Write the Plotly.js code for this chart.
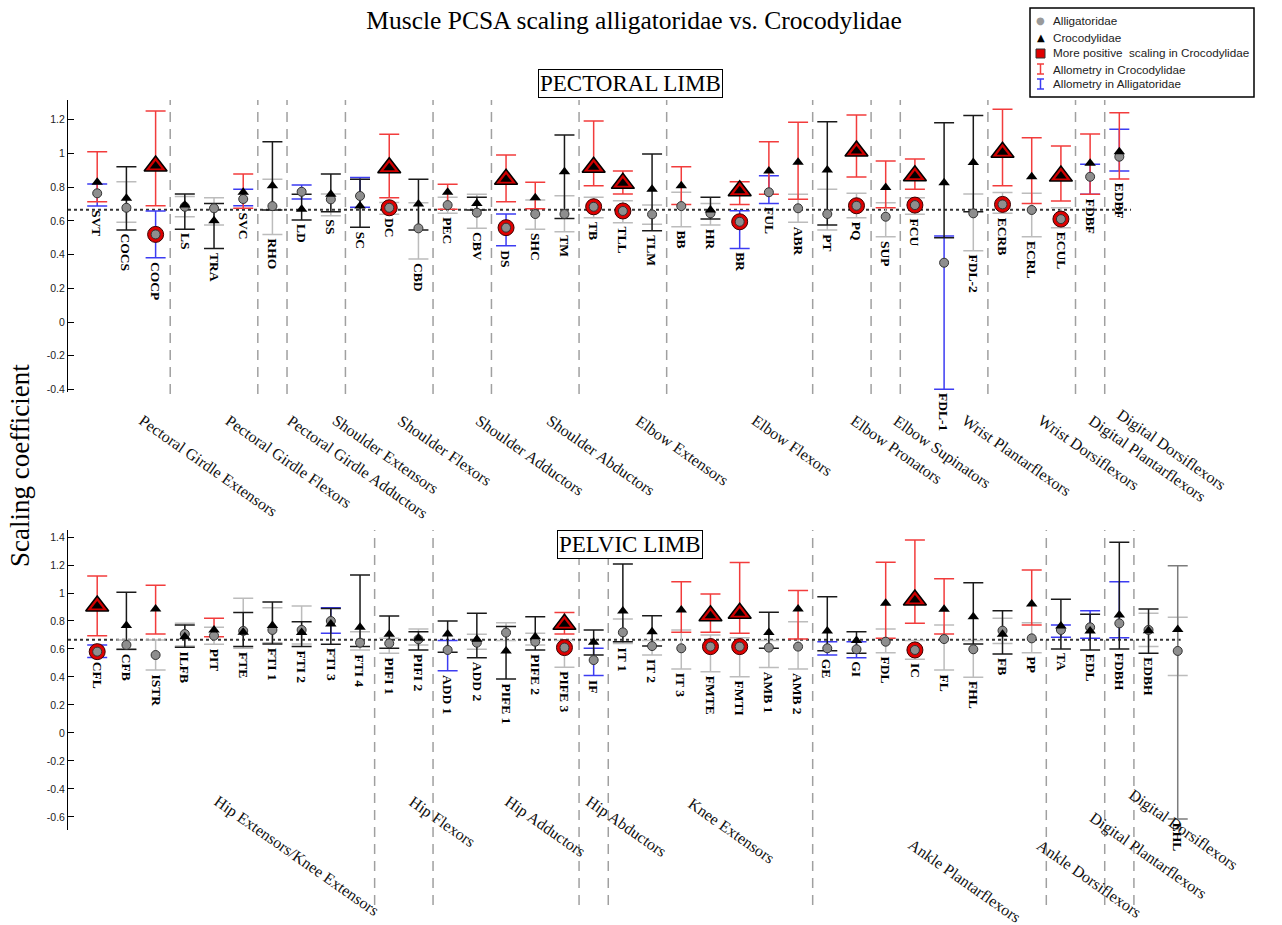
<!DOCTYPE html>
<html><head><meta charset="utf-8">
<script src="https://cdn.plot.ly/plotly-3.0.1.min.js"></script>
<style>body{margin:0;background:#fff}#chart{width:1282px;height:925px}</style>
</head><body><div id="chart"></div>
<script>
// ---------------- DATA: pectoral limb ----------------
const topMuscles = ['SVT','COCS','COCP','LS','TRA','SVC','RHO','LD','SS','SC','DC','CBD','PEC','CBV','DS','SHC','TM','TB','TLL','TLM','BB','HR','BR','FUL','ABR','PT','PQ','SUP','FCU','FDL-1','FDL-2','ECRB','ECRL','ECUL','FDBF','EDBF'];
const topCroc   = [0.829,0.734,0.926,0.694,0.601,0.770,0.809,0.669,0.758,0.688,0.916,0.700,0.770,0.704,0.847,0.738,0.892,0.918,0.823,0.788,0.809,0.665,0.779,0.896,0.948,0.902,1.015,0.799,0.868,0.827,0.946,1.007,0.862,0.866,0.942,1.011];
const topCrocLo = [0.714,0.546,0.690,0.550,0.437,0.675,0.665,0.605,0.655,0.562,0.738,0.546,0.669,0.665,0.714,0.672,0.615,0.809,0.760,0.542,0.698,0.611,0.698,0.758,0.728,0.576,0.861,0.678,0.788,0.500,0.655,0.809,0.704,0.718,0.758,0.849];
const topCrocHi = [1.011,0.922,1.252,0.760,0.704,0.878,1.070,0.758,0.878,0.847,1.114,0.847,0.817,0.740,0.991,0.829,1.110,1.193,0.896,0.997,0.922,0.740,0.833,1.070,1.185,1.189,1.228,0.955,0.967,1.183,1.225,1.262,1.094,1.044,1.116,1.242];
const topAlli   = [0.764,0.678,0.520,0.684,0.675,0.730,0.688,0.773,0.728,0.748,0.678,0.556,0.694,0.649,0.560,0.641,0.641,0.684,0.659,0.639,0.688,0.645,0.595,0.770,0.675,0.641,0.690,0.625,0.694,0.352,0.645,0.698,0.665,0.611,0.862,0.981];
const topAlliLo = [0.688,0.592,0.382,0.625,0.576,0.690,0.520,0.730,0.631,0.681,0.639,0.374,0.645,0.556,0.453,0.550,0.536,0.619,0.589,0.580,0.566,0.576,0.437,0.704,0.592,0.546,0.619,0.506,0.639,-0.398,0.423,0.645,0.506,0.560,0.758,0.896];
const topAlliHi = [0.819,0.833,0.659,0.745,0.738,0.788,0.847,0.813,0.760,0.857,0.710,0.708,0.740,0.758,0.641,0.724,0.750,0.740,0.720,0.694,0.770,0.704,0.661,0.868,0.758,0.788,0.764,0.708,0.738,0.510,0.760,0.768,0.764,0.678,0.936,1.144];
// r = allometry in Crocodylidae, k = none
const topCrocBar = ['r','k','r','k','k','r','k','k','k','k','r','k','r','k','r','r','k','r','r','k','r','k','r','r','r','k','r','r','r','k','k','r','r','r','r','r'];
// b = allometry in Alligatoridae, g = none
const topAlliBar = ['b','g','b','g','g','b','g','b','g','b','g','g','g','g','b','g','g','g','g','g','g','g','b','b','g','g','g','g','g','b','g','g','g','g','b','b'];
// 1 = more positive scaling in Crocodylidae
const topSig = [0,0,1,0,0,0,0,0,0,0,1,0,0,0,1,0,0,1,1,0,0,0,1,0,0,0,1,0,1,0,0,1,0,1,0,0];
const topGroups = ['Pectoral Girdle Extensors','Pectoral Girdle Flexors','Pectoral Girdle Adductors','Shoulder Extensors','Shoulder Flexors','Shoulder Adductors','Shoulder Abductors','Elbow Extensors','Elbow Flexors','Elbow Pronators','Elbow Supinators','Wrist Plantarflexors','Wrist Dorsiflexors','Digital Plantarflexors','Digital Dorsiflexors'];
const topGroupSizes = [3,3,1,2,3,2,3,3,5,2,1,3,3,1,1];
const topTicks = [-0.4,-0.2,0,0.2,0.4,0.6,0.8,1,1.2];

// ---------------- DATA: pelvic limb ----------------
const botMuscles = ['CFL','CFB','ISTR','ILFB','PIT','FTE','FTI 1','FTI 2','FTI 3','FTI 4','PIFI 1','PIFI 2','ADD 1','ADD 2','PIFE 1','PIFE 2','PIFE 3','IF','IT 1','IT 2','IT 3','FMTE','FMTI','AMB 1','AMB 2','GE','GI','FDL','IC','FL','FHL','FB','PP','TA','EDL','FDBH','EDBH','EHL'];
const botCroc   = [0.907,0.767,0.886,0.688,0.736,0.719,0.767,0.717,0.779,0.755,0.705,0.676,0.707,0.669,0.586,0.688,0.776,0.648,0.871,0.724,0.879,0.838,0.855,0.717,0.886,0.729,0.660,0.926,0.950,0.883,0.831,0.705,0.921,0.764,0.729,0.843,0.731,0.740];
const botCrocLo = [0.695,0.598,0.707,0.612,0.688,0.617,0.636,0.617,0.633,0.617,0.605,0.593,0.576,0.538,0.386,0.593,0.707,0.557,0.652,0.621,0.719,0.719,0.712,0.605,0.671,0.588,0.569,0.676,0.783,0.707,0.636,0.564,0.771,0.600,0.593,0.600,0.569,-0.614];
const botCrocHi = [1.121,1.005,1.055,0.771,0.819,0.860,0.936,0.795,0.890,1.129,0.836,0.724,0.800,0.855,0.760,0.831,0.860,0.736,1.207,0.838,1.081,0.993,1.217,0.862,1.017,0.974,0.724,1.219,1.379,1.102,1.074,0.874,1.164,0.955,0.848,1.362,0.886,1.195];
const botAlli   = [0.581,0.629,0.557,0.707,0.695,0.729,0.736,0.736,0.800,0.645,0.640,0.669,0.593,0.645,0.717,0.652,0.610,0.521,0.719,0.621,0.605,0.617,0.617,0.610,0.617,0.605,0.598,0.652,0.593,0.671,0.598,0.731,0.676,0.736,0.755,0.783,0.736,0.586];
const botAlliLo = [0.540,0.595,0.450,0.621,0.633,0.605,0.645,0.636,0.712,0.593,0.569,0.629,0.445,0.598,0.660,0.629,0.469,0.410,0.640,0.557,0.457,0.438,0.402,0.467,0.457,0.557,0.538,0.574,0.526,0.450,0.398,0.640,0.574,0.683,0.676,0.681,0.617,0.410];
const botAlliHi = [0.629,0.665,0.665,0.783,0.755,0.962,0.895,0.907,0.895,0.724,0.676,0.743,0.660,0.705,0.788,0.712,0.660,0.605,0.814,0.660,0.736,0.700,0.680,0.660,0.795,0.652,0.652,0.743,0.660,0.771,0.660,0.819,0.788,0.771,0.874,1.081,0.855,0.826];
const botCrocBar = ['r','k','r','k','r','k','k','k','k','k','k','k','k','k','k','k','r','k','k','k','r','r','r','k','r','k','k','r','r','r','k','k','r','k','k','k','k','m'];
const botAlliBar = ['b','g','g','g','g','g','g','g','b','g','g','g','b','g','g','g','g','b','g','g','g','g','g','g','g','b','b','g','g','g','g','g','g','b','b','b','g','g'];
const botSig = [1,0,0,0,0,0,0,0,0,0,0,0,0,0,0,0,1,0,0,0,0,1,1,0,0,0,0,0,1,0,0,0,0,0,0,0,0,0];
const botGroups = ['Hip Extensors/Knee Extensors','Hip Flexors','Hip Adductors','Hip Abductors','Knee Extensors','Ankle Plantarflexors','Ankle Dorsiflexors','Digital Plantarflexors','Digital Dorsiflexors'];
const botGroupSizes = [10,2,5,1,7,8,2,1,2];
const botTicks = [-0.6,-0.4,-0.2,0,0.2,0.4,0.6,0.8,1,1.2,1.4];
const isometry = 2/3;

// ---------------- LAYOUT CONSTANTS ----------------
const W = 1282, H = 925;
const px = v => v / W, py = v => 1 - v / H;
const topLabelPos = [[133,409],[220,409],[281,409],[327,409],[392,409],[470,409],[541,409],[630,409],[746,409],[845,409],[887,409],[956,409],[1032,409],[1083,409],[1111,403]];
const botLabelPos = [[208,790],[403,790],[499,790],[580,790],[682,792],[902,833],[1031,833],[1084,806],[1123,783]];
const crocColors = {k:'#1a1a1a', r:'#f23c3c', m:'#7c7c7c'};
const alliColors = {g:'#bcbcbc', b:'#3c3cf2'};
const SERIF = 'Liberation Serif, Times New Roman, serif';
const SANS = 'Liberation Sans, Arial, sans-serif';

function barTrace(names, val, lo, hi, flags, flag, color, xa, ya) {
  const idx = names.map((_, i) => i).filter(i => flags[i] === flag);
  return {type:'scatter', mode:'markers', x: idx.map(i => names[i]), y: idx.map(i => val[i]),
    error_y:{type:'data', symmetric:false, array: idx.map(i => hi[i] - val[i]), arrayminus: idx.map(i => val[i] - lo[i]),
      color: color, thickness: 1.5, width: 10},
    marker:{size:1, color:'rgba(0,0,0,0)'}, xaxis:xa, yaxis:ya, hoverinfo:'skip', showlegend:false};
}
function markerTrace(names, val, mask, marker, xa, ya) {
  const idx = names.map((_, i) => i).filter(i => mask(i));
  return {type:'scatter', mode:'markers', x: idx.map(i => names[i]), y: idx.map(i => val[i]),
    marker: marker, xaxis:xa, yaxis:ya, hoverinfo:'x+y', showlegend:false, cliponaxis:false};
}
function panelTraces(names, croc, cLo, cHi, alli, aLo, aHi, cBar, aBar, sig, xa, ya) {
  const t = [];
  t.push(barTrace(names, alli, aLo, aHi, aBar, 'g', alliColors.g, xa, ya));
  t.push(barTrace(names, alli, aLo, aHi, aBar, 'b', alliColors.b, xa, ya));
  t.push(barTrace(names, croc, cLo, cHi, cBar, 'm', crocColors.m, xa, ya));
  t.push(barTrace(names, croc, cLo, cHi, cBar, 'k', crocColors.k, xa, ya));
  t.push(barTrace(names, croc, cLo, cHi, cBar, 'r', crocColors.r, xa, ya));
  t.push(markerTrace(names, alli, i => sig[i], {symbol:'circle', size:16, color:'#e00000', line:{color:'#3a0000', width:1}}, xa, ya));
  t.push(markerTrace(names, alli, i => true, {symbol:'circle', size:9, color:'#8e8e8e', line:{color:'#333', width:1}}, xa, ya));
  t.push(markerTrace(names, croc, i => sig[i], {symbol:'triangle-up', size:20, color:'#d00000', line:{color:'#000', width:1.5}}, xa, ya));
  t.push(markerTrace(names, croc, i => true, {symbol:'triangle-up', size:10, color:'#000', line:{color:'#000', width:0}}, xa, ya));
  return t;
}
function separators(sizes, xref, y0, y1) {
  const s = []; let cum = 0;
  sizes.slice(0, -1).forEach(n => {
    cum += n;
    s.push({type:'line', xref:xref, yref:'paper', x0:cum - 0.5, x1:cum - 0.5, y0:py(y0), y1:py(y1),
      line:{color:'#a0a0a0', width:1.5, dash:'10px,7px'}, layer:'below'});
  });
  return s;
}
function muscleLabels(names, cLo, aLo, xref, yref) {
  return names.map((n, i) => ({x:n, y:Math.min(cLo[i], aLo[i]), xref:xref, yref:yref, text:'<b>' + n + '</b>',
    showarrow:false, textangle:90, xanchor:'center', yanchor:'top', yshift:-2,
    font:{family:SERIF, size:13.5, color:'#000'}}));
}
function groupLabels(groups, pos) {
  return groups.map((g, i) => ({x:px(pos[i][0]), y:py(pos[i][1]), xref:'paper', yref:'paper', text:g,
    showarrow:false, textangle:35, xanchor:'left', yanchor:'top', font:{family:SERIF, size:16, color:'#111'}}));
}

const data = [].concat(
  panelTraces(topMuscles, topCroc, topCrocLo, topCrocHi, topAlli, topAlliLo, topAlliHi, topCrocBar, topAlliBar, topSig, 'x', 'y'),
  panelTraces(botMuscles, botCroc, botCrocLo, botCrocHi, botAlli, botAlliLo, botAlliHi, botCrocBar, botAlliBar, botSig, 'x2', 'y2')
);

const xRange = [-1, 38.79];
function xAxis(names, anchor) {
  return {domain:[px(68), px(1230)], range:xRange, type:'category', categoryorder:'array', categoryarray:names,
    showline:false, showticklabels:false, ticks:'', zeroline:false, showgrid:false, anchor:anchor, fixedrange:true};
}
function yAxis(ticks, domain, range, anchor) {
  return {domain:domain, range:range, tickvals:ticks, ticktext:ticks.map(String), ticks:'inside', ticklen:6,
    tickcolor:'#000', showline:true, linecolor:'#000', linewidth:1, zeroline:false, showgrid:false,
    tickfont:{family:SANS, size:10.5, color:'#222'}, anchor:anchor, fixedrange:true, automargin:false};
}

const shapes = [].concat(
  separators(topGroupSizes, 'x', 394, 100),
  separators(botGroupSizes, 'x2', 905, 530),
  [
    {type:'line', xref:'x', yref:'y', x0:-1, x1:topMuscles.length - 0.6, y0:isometry, y1:isometry, line:{color:'#333', width:2, dash:'3px,3px'}, layer:'below'},
    {type:'line', xref:'x2', yref:'y2', x0:-1, x1:botMuscles.length - 0.9, y0:isometry, y1:isometry, line:{color:'#333', width:2, dash:'3px,3px'}, layer:'below'},
    // legend box
    {type:'rect', xref:'paper', yref:'paper', x0:px(1030), x1:px(1254), y0:py(97), y1:py(8), line:{color:'#000', width:1.5}, fillcolor:'#fff'},
    {type:'rect', xref:'paper', yref:'paper', x0:px(1036), x1:px(1045), y0:py(58), y1:py(49), line:{color:'#333', width:1}, fillcolor:'#e00000'},
    {type:'line', xref:'paper', yref:'paper', x0:px(1040.5), x1:px(1040.5), y0:py(74), y1:py(64), line:{color:'#f23c3c', width:1.5}},
    {type:'line', xref:'paper', yref:'paper', x0:px(1037), x1:px(1044), y0:py(64), y1:py(64), line:{color:'#f23c3c', width:1.5}},
    {type:'line', xref:'paper', yref:'paper', x0:px(1037), x1:px(1044), y0:py(74), y1:py(74), line:{color:'#f23c3c', width:1.5}},
    {type:'line', xref:'paper', yref:'paper', x0:px(1040.5), x1:px(1040.5), y0:py(89), y1:py(79), line:{color:'#3c3cf2', width:1.5}},
    {type:'line', xref:'paper', yref:'paper', x0:px(1037), x1:px(1044), y0:py(79), y1:py(79), line:{color:'#3c3cf2', width:1.5}},
    {type:'line', xref:'paper', yref:'paper', x0:px(1037), x1:px(1044), y0:py(89), y1:py(89), line:{color:'#3c3cf2', width:1.5}}
  ]
);

const legendItems = [['Alligatoridae',21],['Crocodylidae',37],['More positive  scaling in Crocodylidae',53],['Allometry in Crocodylidae',69],['Allometry in Alligatoridae',84]];
const annotations = [].concat(
  muscleLabels(topMuscles, topCrocLo, topAlliLo, 'x', 'y'),
  muscleLabels(botMuscles, botCrocLo, botAlliLo, 'x2', 'y2'),
  groupLabels(topGroups, topLabelPos),
  groupLabels(botGroups, botLabelPos),
  [
    {x:px(630), y:py(84), xref:'paper', yref:'paper', text:'PECTORAL LIMB', showarrow:false, xanchor:'center', yanchor:'middle',
      bordercolor:'#000', borderwidth:1, borderpad:1, bgcolor:'#fff', font:{family:SERIF, size:23, color:'#000'}},
    {x:px(630), y:py(544), xref:'paper', yref:'paper', text:'PELVIC LIMB', showarrow:false, xanchor:'center', yanchor:'middle',
      bordercolor:'#000', borderwidth:1, borderpad:1, bgcolor:'#fff', font:{family:SERIF, size:23, color:'#000'}},
    {x:px(20), y:py(466), xref:'paper', yref:'paper', text:'Scaling coefficient', showarrow:false, textangle:-90,
      xanchor:'center', yanchor:'middle', font:{family:SERIF, size:27, color:'#000'}},
    {x:px(1040.5), y:py(21), xref:'paper', yref:'paper', text:'●', showarrow:false, xanchor:'center', yanchor:'middle', font:{family:'DejaVu Sans', size:10, color:'#9a9a9a'}},
    {x:px(1040.5), y:py(37), xref:'paper', yref:'paper', text:'▲', showarrow:false, xanchor:'center', yanchor:'middle', font:{family:'DejaVu Sans', size:10, color:'#000'}}
  ],
  legendItems.map(it => ({x:px(1051), y:py(it[1]), xref:'paper', yref:'paper', text:it[0], showarrow:false,
    xanchor:'left', yanchor:'middle', font:{family:SANS, size:11.7, color:'#222'}}))
);

const layout = {
  width:W, height:H, autosize:false, margin:{l:0, r:0, t:0, b:0, pad:0},
  paper_bgcolor:'#fff', plot_bgcolor:'rgba(0,0,0,0)', showlegend:false,
  font:{family:SERIF, color:'#000'},
  title:{text:'Muscle PCSA scaling alligatoridae vs. Crocodylidae', x:px(634), y:py(20), xanchor:'center', yanchor:'middle',
    font:{family:SERIF, size:25.5, color:'#000'}},
  xaxis: xAxis(topMuscles, 'y'),
  xaxis2: xAxis(botMuscles, 'y2'),
  yaxis: yAxis(topTicks, [py(392), py(100)], [-0.415, 1.3175], 'x'),
  yaxis2: yAxis(botTicks, [py(830), py(530)], [-0.693, 1.45], 'x2'),
  shapes: shapes,
  annotations: annotations
};

Plotly.newPlot('chart', data, layout, {staticPlot:true, displayModeBar:false});
</script>
</body></html>
